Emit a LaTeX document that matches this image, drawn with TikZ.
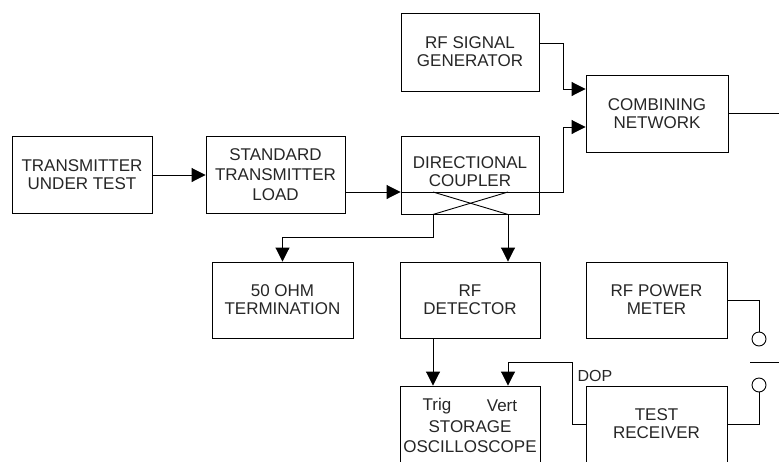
\documentclass[tikz,border=0pt]{standalone}
\usepackage{fontspec}
\setmainfont{Liberation Sans}
\usetikzlibrary{arrows.meta}
\begin{document}
\begin{tikzpicture}[x=1pt,y=-1pt,
  box/.style={draw, line width=0.9pt, inner sep=0pt},
  txt/.style={font=\fontsize{17}{18}\selectfont, align=center, text=black!85},
  txtw/.style={font=\fontsize{17}{20}\selectfont, align=center, text=black!85},
  arr/.style={-{Triangle[length=14pt,width=14pt]}},
  ln/.style={line width=0.9pt},
  port/.style={draw, circle, line width=0.9pt, minimum size=14pt, inner sep=0pt}
]
\useasboundingbox (0,0) rectangle (779,461);
\clip (0,0) rectangle (779,461);
% boxes
\node[box, txt, minimum width=140pt, minimum height=77pt] (tut) at (82,175) {TRANSMITTER\\UNDER TEST};
\node[box, txtw, minimum width=139pt, minimum height=77pt] (stl) at (275.5,175) {STANDARD\\TRANSMITTER\\LOAD};
\node[box, minimum width=138pt, minimum height=78pt, label={[txt, yshift=3.5pt]center:DIRECTIONAL\\COUPLER}] (dc) at (470,175) {};
\node[box, txt, minimum width=138pt, minimum height=78pt] (rfsg) at (470,52) {RF SIGNAL\\GENERATOR};
\node[box, txt, minimum width=142pt, minimum height=77pt] (comb) at (657,113.5) {COMBINING\\NETWORK};
\node[box, txt, minimum width=141pt, minimum height=76pt] (ohm) at (282.5,300) {50 OHM\\TERMINATION};
\node[box, txt, minimum width=140pt, minimum height=76pt] (rfd) at (470,300) {RF\\DETECTOR};
\node[box, txt, minimum width=141pt, minimum height=76pt] (rfpm) at (656.5,300) {RF POWER\\METER};
\node[box, minimum width=140pt, minimum height=76pt] (osc) at (470,424) {};
\node[box, txt, minimum width=141pt, minimum height=76pt] (tr) at (656.5,424) {TEST\\RECEIVER};
% texts in oscilloscope
\node[txt] (trig) at (437,406) {Trig};
\node[txt] (vert) at (502,406) {Vert};
\node[txtw] (osctxt) at (470,437) {STORAGE\\OSCILLOSCOPE};
\node[txt, font=\fontsize{16}{18}\selectfont] (dop) at (595,376) {DOP};
% ports
\node[port] (c1) at (759,339) {};
\node[port] (c2) at (759,385) {};
% coordinates
\coordinate (yp) at (0,192);
\coordinate (y43) at (0,43);
\coordinate (j1) at (563,127);
\coordinate (j2) at (563,89);
\coordinate (xa) at (433,0);
\coordinate (xb) at (508,0);
\coordinate (j3) at (433,237);
\coordinate (j4) at (572,362);
\coordinate (out1) at (779,113.5);
\coordinate (s1) at (750,362);
\coordinate (s2) at (779,362);
% connectors
\draw[ln,arr] (tut) -- (stl);
\draw[ln,arr] (stl.east |- yp) -- (dc.west |- yp);
\draw[ln,arr] (dc.west |- yp) -| (j1) -- (comb.west |- j1);
\draw[ln,arr] (rfsg.east |- y43) -| (j2) -- (comb.west |- j2);
\draw[ln] (comb) -- (out1);
\draw[ln] (xa |- yp) -- (xb |- dc.south);
\draw[ln] (xa |- dc.south) -- (xb |- yp);
\draw[ln,arr] (xa |- dc.south) -- (j3) -| (ohm.north);
\draw[ln,arr] (xb |- dc.south) -- (xb |- rfd.north);
\draw[ln,arr] (xa |- rfd.south) -- (xa |- osc.north);
\draw[ln,arr] (tr.west) -| (j4) -| (xb |- osc.north);
\draw[ln] (rfpm.east) -| (c1.north);
\draw[ln] (c2.south) |- (tr.east);
\draw[ln] (s1) -- (s2);
\end{tikzpicture}
\end{document}
